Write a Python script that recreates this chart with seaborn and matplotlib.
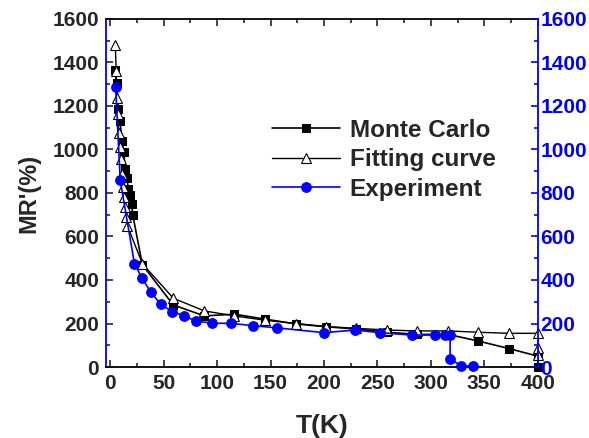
import matplotlib
matplotlib.use("Agg")
import matplotlib.pyplot as plt
import seaborn as sns
import pandas as pd
from matplotlib.ticker import MultipleLocator

mc_x = [4, 6, 7.5, 9, 11, 12.5, 14, 15.5, 17, 18.5, 20, 21, 30, 59, 88, 116, 145, 174, 202, 230, 259, 287, 316, 344, 373, 400, 400]
mc_y = [1366, 1304, 1187, 1131, 1040, 990, 908, 869, 816, 790, 750, 700, 470, 285, 235, 243, 220, 198, 185, 175, 160, 150, 150, 120, 85, 50, 0]

fit_x = [4.7, 5.5, 6, 7, 8, 9, 10, 11, 12, 13, 14, 15, 16, 30, 59, 88, 116, 145, 174, 202, 230, 259, 287, 316, 344, 373, 400, 400, 400]
fit_y = [1480, 1361, 1238, 1161, 1077, 1010, 954, 885, 825, 780, 735, 690, 650, 475, 316, 258, 235, 215, 200, 186, 178, 170, 166, 166, 160, 155, 155, 86, 55]

exp_x = [5, 9.3, 22.6, 29.5, 38, 47, 58, 69, 80, 95.5, 112.6, 134, 156, 200, 229, 252, 282, 304, 313, 318, 318, 328.6, 339.5]
exp_y = [1285, 858, 475, 410, 344, 289, 255, 235, 212, 201, 201, 190, 180, 158, 170, 158, 147, 147, 147, 147, 37, 5, 5]

labels = ["Monte Carlo", "Fitting curve", "Experiment"]

sns.set_style("ticks")
plt.rcParams['font.family'] = ['Liberation Sans', 'DejaVu Sans']
plt.rcParams['font.weight'] = 'bold'

fig = plt.figure(figsize=(5.89, 4.38), dpi=100)
ax = fig.add_axes([0.18, 0.162, 0.733, 0.795])

df_mc = pd.DataFrame({"x": mc_x, "y": mc_y})
df_fit = pd.DataFrame({"x": fit_x, "y": fit_y})
df_exp = pd.DataFrame({"x": exp_x, "y": exp_y})

common = dict(estimator=None, sort=False, ax=ax, clip_on=False)
sns.lineplot(data=df_mc, x="x", y="y", color="black", lw=1.2, marker="s", markersize=5.5,
             markerfacecolor="black", markeredgecolor="black", label=labels[0], zorder=3, **common)
sns.lineplot(data=df_fit, x="x", y="y", color="black", lw=1.0, marker="^", markersize=7,
             markerfacecolor="white", markeredgecolor="black", markeredgewidth=0.8, label=labels[1], zorder=4, **common)
sns.lineplot(data=df_exp, x="x", y="y", color="blue", lw=1.2, marker="o", markersize=7,
             markerfacecolor="blue", markeredgecolor="blue", label=labels[2], zorder=5, **common)

ax.set_xlim(-4, 400)
ax.set_ylim(0, 1600)
ax.xaxis.set_major_locator(MultipleLocator(50))
ax.xaxis.set_minor_locator(MultipleLocator(25))
ax.yaxis.set_major_locator(MultipleLocator(200))
ax.yaxis.set_minor_locator(MultipleLocator(100))
ax.tick_params(which='both', direction='in', top=True, right=False, labelsize=15, width=1.2)
ax.tick_params(which='major', length=5, pad=5)
ax.tick_params(which='minor', length=3)
for lab in ax.get_xticklabels() + ax.get_yticklabels():
    lab.set_fontweight('bold')
ax.set_xlabel("T(K)", fontsize=19, fontweight='bold', labelpad=15)
ax.set_ylabel("MR'(%)", fontsize=17, fontweight='bold', labelpad=9)
for s in ['top', 'bottom']:
    ax.spines[s].set_linewidth(1.3)
    ax.spines[s].set_color('black')
ax.spines['left'].set_color('blue')
ax.spines['left'].set_linewidth(1.3)
ax.spines['right'].set_visible(False)

ax2 = ax.twinx()
ax2.set_ylim(0, 1600)
ax2.yaxis.set_major_locator(MultipleLocator(200))
ax2.yaxis.set_minor_locator(MultipleLocator(100))
ax2.tick_params(which='both', direction='in', colors='blue', labelsize=15, width=1.2)
ax2.tick_params(which='major', length=5, pad=2)
ax2.tick_params(which='minor', length=3)
for lab in ax2.get_yticklabels():
    lab.set_fontweight('bold')
    lab.set_color('blue')
for s in ['top', 'bottom', 'left']:
    ax2.spines[s].set_visible(False)
ax2.spines['right'].set_color('blue')
ax2.spines['right'].set_linewidth(1.3)

leg = ax.legend(loc='upper left', bbox_to_anchor=(0.345, 0.762), frameon=False,
                prop={'size': 17.5, 'weight': 'bold'}, handlelength=2.8, labelspacing=0.27,
                handletextpad=0.4, borderpad=0.2)

fig.savefig("out.png", dpi=100)
